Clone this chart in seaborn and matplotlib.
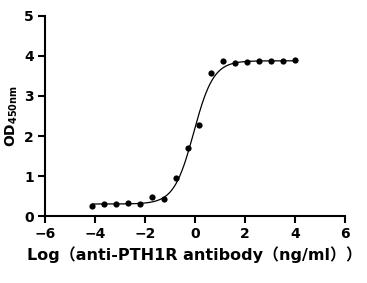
import numpy as np
import pandas as pd
import seaborn as sns
import matplotlib
matplotlib.use("Agg")
import matplotlib.pyplot as plt

# Measured points (log concentration vs OD450)
log_conc = [-4.11, -3.63, -3.16, -2.68, -2.20, -1.72, -1.25, -0.77, -0.29,
            0.18, 0.66, 1.14, 1.61, 2.09, 2.57, 3.05, 3.52, 4.00]
od450 = [0.24, 0.30, 0.30, 0.32, 0.30, 0.47, 0.42, 0.94, 1.70,
         2.27, 3.57, 3.87, 3.82, 3.85, 3.87, 3.87, 3.87, 3.89]

# 4PL fit parameters
fit_bottom = 0.30
fit_top = 3.88
fit_log_ec50 = -0.05
fit_hill = 1.1

sns.set_theme(style="ticks")
plt.rcParams['font.family'] = ['DejaVu Sans', 'Noto Sans CJK SC']
plt.rcParams['font.weight'] = 'bold'
plt.rcParams['mathtext.default'] = 'bf'
plt.rcParams['text.color'] = 'black'
plt.rcParams['axes.labelcolor'] = 'black'

df = pd.DataFrame({"x": log_conc, "y": od450})
xs = np.linspace(min(log_conc), max(log_conc), 300)
fit = pd.DataFrame({"x": xs,
                    "y": fit_bottom + (fit_top - fit_bottom) / (1 + 10 ** ((fit_log_ec50 - xs) * fit_hill))})

fig = plt.figure(figsize=(3.67, 2.83), dpi=100)
ax = fig.add_axes([0.1226, 0.2367, 0.8174, 0.7068])

sns.lineplot(data=fit, x="x", y="y", ax=ax, color="black", linewidth=0.9)
sns.scatterplot(data=df, x="x", y="y", ax=ax, color="black", s=20, edgecolor="black", linewidth=0)

ax.set_xlim(-6, 6)
ax.set_ylim(0, 5)
ax.set_xticks([-6, -4, -2, 0, 2, 4, 6])
ax.set_yticks([0, 1, 2, 3, 4, 5])
for s in ["top", "right"]:
    ax.spines[s].set_visible(False)
for s in ["left", "bottom"]:
    ax.spines[s].set_linewidth(1.5)
    ax.spines[s].set_color("black")
ax.tick_params(direction="out", length=5, width=1.5, labelsize=10, colors="black", pad=3)
for lab in ax.get_xticklabels() + ax.get_yticklabels():
    lab.set_fontweight("bold")

ax.set_xlabel("Log（anti-PTH1R antibody（ng/ml））", fontsize=11.5, fontweight="bold",
              color="black", labelpad=4)
ax.set_ylabel("OD$_{450nm}$", fontsize=10, fontweight="bold", color="black", labelpad=3)

fig.savefig("out.png", dpi=100)
